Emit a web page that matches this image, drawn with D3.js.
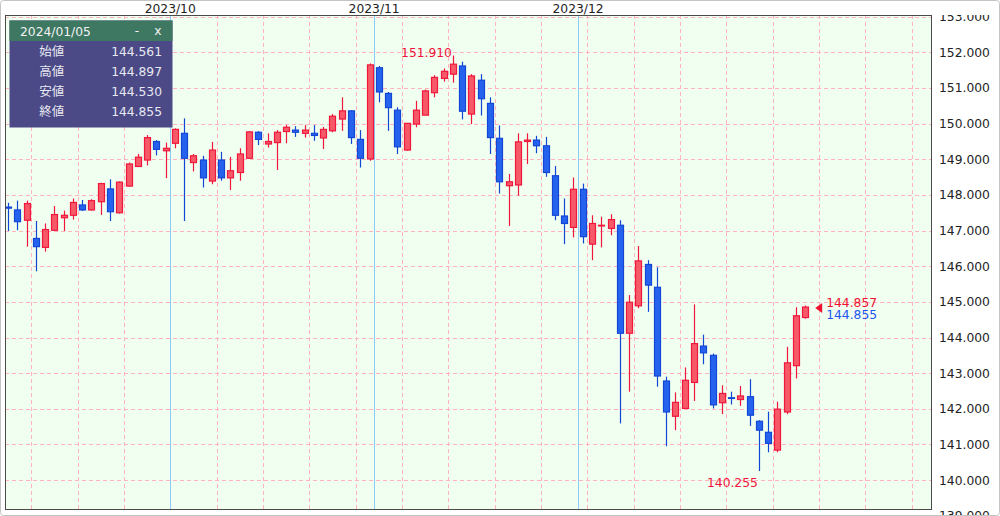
<!DOCTYPE html>
<html><head><meta charset="utf-8">
<script src="https://cdn.jsdelivr.net/npm/d3@7"></script>
<style>
html,body{margin:0;padding:0;background:#fff;}
svg{display:block;}
</style></head><body>
<svg id="c" width="1000" height="516"></svg>
<script>
// ---------------- data ----------------
const dates = [
 "2023/09/06","2023/09/07","2023/09/08","2023/09/11","2023/09/12","2023/09/13","2023/09/14","2023/09/15",
 "2023/09/18","2023/09/19","2023/09/20","2023/09/21","2023/09/22","2023/09/25","2023/09/26","2023/09/27",
 "2023/09/28","2023/09/29",
 "2023/10/02","2023/10/03","2023/10/04","2023/10/05","2023/10/06","2023/10/09","2023/10/10","2023/10/11",
 "2023/10/12","2023/10/13","2023/10/16","2023/10/17","2023/10/18","2023/10/19","2023/10/20","2023/10/23",
 "2023/10/24","2023/10/25","2023/10/26","2023/10/27","2023/10/30","2023/10/31",
 "2023/11/01","2023/11/02","2023/11/03","2023/11/06","2023/11/07","2023/11/08","2023/11/09","2023/11/10",
 "2023/11/13","2023/11/14","2023/11/15","2023/11/16","2023/11/17","2023/11/20","2023/11/21","2023/11/22",
 "2023/11/23","2023/11/24","2023/11/27","2023/11/28","2023/11/29","2023/11/30",
 "2023/12/01","2023/12/04","2023/12/05","2023/12/06","2023/12/07","2023/12/08","2023/12/11","2023/12/12",
 "2023/12/13","2023/12/14","2023/12/15","2023/12/18","2023/12/19","2023/12/20","2023/12/21","2023/12/22",
 "2023/12/25","2023/12/26","2023/12/27","2023/12/28","2023/12/29",
 "2024/01/02","2024/01/03","2024/01/04","2024/01/05"
];
const open = [
 147.66,147.58,147.29,146.78,146.53,147.01,147.36,147.43,147.72,147.58,147.81,148.17,147.50,148.25,148.80,148.98,149.50,149.24,
 149.45,149.73,148.91,148.98,148.39,148.98,148.48,148.63,149.03,149.76,149.43,149.47,149.78,149.82,149.73,149.73,149.60,149.80,150.13,150.36,149.56,149.01,
 151.57,150.85,150.38,149.26,149.99,150.24,150.87,151.27,151.39,151.62,150.27,151.22,150.57,149.59,148.26,148.28,149.50,149.54,149.38,148.54,147.41,147.09,
 148.16,146.62,147.13,147.06,147.15,144.12,144.89,146.05,145.41,142.78,141.79,142.01,142.74,143.76,143.50,142.17,142.31,142.26,142.34,141.65,141.34,
 140.84,141.91,143.21,144.561
];
const high = [
 147.78,147.84,147.84,147.27,147.20,147.69,147.56,147.90,147.86,147.88,148.34,148.44,148.38,148.91,149.15,149.68,149.54,149.47,
 149.87,150.15,149.15,149.10,149.49,149.21,149.07,149.31,149.79,149.79,149.73,149.82,149.96,149.93,149.96,149.96,149.91,150.27,150.74,150.38,149.82,151.69,
 151.62,150.89,150.46,150.02,150.64,150.96,151.36,151.55,151.91,151.74,151.39,151.39,150.74,149.95,148.59,149.73,149.73,149.66,149.63,148.81,147.90,148.49,
 148.32,147.43,147.39,147.46,147.29,145.19,146.57,146.17,145.97,142.90,142.46,143.16,144.93,144.08,143.55,142.66,142.48,142.64,142.83,141.68,141.92,
 142.20,143.74,144.85,144.897
];
const low = [
 146.99,147.01,146.55,145.86,146.41,146.99,146.99,147.31,147.55,147.56,147.44,147.27,147.48,148.23,148.79,148.83,149.11,148.47,
 149.31,147.27,148.66,148.21,148.30,148.40,148.14,148.40,149.01,149.40,149.33,148.70,149.45,149.63,149.61,149.52,149.29,149.76,149.80,149.43,148.77,148.96,
 150.60,149.80,149.15,149.24,149.90,150.24,150.74,151.18,151.15,150.12,149.99,150.23,149.15,148.04,147.13,147.98,148.87,149.17,148.51,147.29,146.62,146.81,
 146.64,146.17,146.53,146.87,141.59,142.48,144.82,144.72,142.62,140.95,141.40,142.01,142.22,143.25,142.01,141.85,142.12,142.08,141.52,140.255,140.78,
 140.78,141.85,142.85,144.530
];
const close = [
 147.63,147.25,147.76,146.55,147.03,147.45,147.43,147.79,147.58,147.84,148.32,147.53,148.36,148.87,149.06,149.61,149.28,149.31,
 149.84,149.03,149.10,148.48,149.26,148.48,148.68,149.15,149.77,149.56,149.50,149.76,149.90,149.76,149.82,149.67,149.84,150.21,150.36,149.61,149.03,151.65,
 150.89,150.45,149.35,150.01,150.38,150.92,151.30,151.47,151.67,150.35,151.34,150.70,149.61,148.37,148.37,149.49,149.54,149.38,148.63,147.43,147.20,148.16,
 146.83,147.20,147.15,147.31,144.12,144.99,146.15,145.47,142.92,141.91,142.18,142.80,143.83,143.57,142.11,142.43,142.29,142.36,141.82,141.40,141.03,
 141.99,143.29,144.61,144.855
];
const yTicks = [139,140,141,142,143,144,145,146,147,148,149,150,151,152,153];
const monthLabels = ["2023/10","2023/11","2023/12"];
const monthStarts = ["2023/10/02","2023/11/01","2023/12/01"];
const lastPrice = 144.857;
const tipFields = ["始値","高値","安値","終値"];

// ---------------- layout ----------------
const L = 5, R = 932, T = 15, B = 510;
const svg = d3.select("#c");
const n = dates.length;
const x = d3.scaleLinear().domain([0, n - 1]).range([8, 805.2]);
const y = d3.scaleLinear().domain([139.16, 153.05]).range([B, T]);
const fmt = d3.format(".3f");
const NUMF = "'DejaVu Sans', Verdana, sans-serif";
const JPF = "'Noto Sans CJK JP', sans-serif";

const defs = svg.append("defs");
defs.append("clipPath").attr("id", "plot").append("rect").attr("x", L).attr("y", T).attr("width", R - L).attr("height", B - T);
defs.append("clipPath").attr("id", "lab").append("rect").attr("x", R).attr("y", T).attr("width", 1000 - R).attr("height", 516 - T);

svg.append("rect").attr("width", 1000).attr("height", 516).attr("fill", "#fff");
svg.append("rect").attr("x", L).attr("y", T).attr("width", R - L).attr("height", B - T).attr("fill", "#f0fff0");

const plot = svg.append("g").attr("clip-path", "url(#plot)");

// horizontal grid
plot.append("g").selectAll("line").data(yTicks).join("line")
  .attr("x1", L).attr("x2", R)
  .attr("y1", d => Math.round(y(d)) + 0.5).attr("y2", d => Math.round(y(d)) + 0.5)
  .attr("stroke", "#ffb3bd").attr("stroke-dasharray", "4,3").attr("stroke-width", 1);

// weekly grid (boundary before first trading day of each week)
const parse = d3.timeParse("%Y/%m/%d");
const dd = dates.map(parse);
const weekStarts = [];
for (let i = 1; i < n; i++) {
  if (d3.timeMonday.floor(dd[i]).getTime() !== d3.timeMonday.floor(dd[i - 1]).getTime()) weekStarts.push(i);
}
let w = weekStarts[weekStarts.length - 1];
while (x(w + 5 - 0.5) < R) { w += 5; weekStarts.push(w); }
plot.append("g").selectAll("line").data(weekStarts).join("line")
  .attr("x1", d => Math.round(x(d - 0.5)) + 0.5).attr("x2", d => Math.round(x(d - 0.5)) + 0.5)
  .attr("y1", T).attr("y2", B)
  .attr("stroke", "#ffb3bd").attr("stroke-dasharray", "4,3").attr("stroke-width", 1);

// month lines
const monthIdx = monthStarts.map(s => dates.indexOf(s));
plot.append("g").selectAll("line").data(monthIdx).join("line")
  .attr("x1", d => Math.round(x(d - 0.5)) + 0.5).attr("x2", d => Math.round(x(d - 0.5)) + 0.5)
  .attr("y1", T).attr("y2", B)
  .attr("stroke", "#8ccbf5").attr("stroke-width", 1);

// candles
const UP_FILL = "#f65a69", UP_STROKE = "#f0163c";
const DN_FILL = "#2563ee", DN_STROKE = "#1446d6";
const idx = d3.range(n);
const cg = plot.append("g").selectAll("g").data(idx).join("g");
cg.append("line")
  .attr("x1", i => Math.round(x(i)) + 0.5).attr("x2", i => Math.round(x(i)) + 0.5)
  .attr("y1", i => y(high[i])).attr("y2", i => y(low[i]))
  .attr("stroke", i => close[i] >= open[i] ? UP_STROKE : DN_STROKE).attr("stroke-width", 1.2);
cg.append("rect")
  .attr("x", i => Math.round(x(i)) - 2.5)
  .attr("width", 6)
  .attr("y", i => y(Math.max(open[i], close[i])))
  .attr("height", i => Math.max(0.6, Math.abs(y(open[i]) - y(close[i]))))
  .attr("fill", i => close[i] >= open[i] ? UP_FILL : DN_FILL)
  .attr("stroke", i => close[i] >= open[i] ? UP_STROKE : DN_STROKE)
  .attr("stroke-width", 1.2);

// high / low labels
const hiI = d3.maxIndex(high), loI = d3.minIndex(low);
svg.append("text").attr("x", x(hiI) - 1).attr("y", y(high[hiI]) + 1)
  .attr("text-anchor", "end").attr("font-family", NUMF).attr("font-size", 12.3)
  .attr("fill", "#f0143c").text(fmt(high[hiI]));
svg.append("text").attr("x", x(loI) - 1).attr("y", y(low[loI]) + 16)
  .attr("text-anchor", "end").attr("font-family", NUMF).attr("font-size", 12.3)
  .attr("fill", "#f0143c").text(fmt(low[loI]));

// last price marker
const lx = x(n - 1) + 10, ly = y(lastPrice);
svg.append("path").attr("d", `M${lx},${ly + 1} L${lx + 7},${ly - 4} L${lx + 7},${ly + 6} Z`).attr("fill", "#f01030");
svg.append("text").attr("x", lx + 11).attr("y", ly).attr("font-family", NUMF).attr("font-size", 12.3)
  .attr("fill", "#f01030").text(fmt(lastPrice));
svg.append("text").attr("x", lx + 11).attr("y", ly + 12).attr("font-family", NUMF).attr("font-size", 12.3)
  .attr("fill", "#2255ee").text(fmt(close[n - 1]));

// plot border
svg.append("rect").attr("x", L + 0.5).attr("y", T + 0.5).attr("width", R - L - 1).attr("height", B - T - 1)
  .attr("fill", "none").attr("stroke", "#4a4a4a").attr("stroke-width", 1);

// y axis (clip group in page coordinates, axis group translated inside it)
const axis = d3.axisRight(y).tickValues(yTicks).tickFormat(fmt).tickSize(0).tickPadding(7);
const clipG = svg.append("g").attr("clip-path", "url(#lab)");
const ag = clipG.append("g").attr("transform", `translate(${R},0)`).call(axis);
ag.select(".domain").remove();
ag.selectAll("text").attr("font-family", NUMF).attr("font-size", 12.3).attr("fill", "#222");

// month labels
svg.append("g").selectAll("text").data(monthIdx).join("text")
  .attr("x", d => x(d - 0.5)).attr("y", 13).attr("text-anchor", "middle")
  .attr("font-family", NUMF).attr("font-size", 12.3).attr("fill", "#222")
  .text((d, k) => monthLabels[k]);

// tooltip box
const tip = svg.append("g");
tip.append("rect").attr("x", 9.5).attr("y", 20.5).attr("width", 163).attr("height", 107).attr("fill", "#4b4a86");
tip.append("rect").attr("x", 9.5).attr("y", 20.5).attr("width", 163).attr("height", 20.5).attr("fill", "#3e7862");
tip.append("text").attr("x", 20).attr("y", 35.5).attr("font-family", NUMF).attr("font-size", 12.3)
  .attr("fill", "#f2f2f2").text(dates[n - 1]);
tip.append("text").attr("x", 137).attr("y", 35).attr("text-anchor", "middle").attr("font-family", NUMF).attr("font-size", 12.3)
  .attr("fill", "#f2f2f2").text("-");
tip.append("text").attr("x", 158).attr("y", 35).attr("text-anchor", "middle").attr("font-family", NUMF).attr("font-size", 12.3)
  .attr("fill", "#f2f2f2").text("x");
const tipVals = [open[n - 1], high[n - 1], low[n - 1], close[n - 1]];
tipFields.forEach((f, k) => {
  const ty = 56 + k * 20;
  tip.append("text").attr("x", 51.7).attr("y", ty).attr("text-anchor", "middle").attr("font-family", JPF)
    .attr("font-size", 12.5).attr("fill", "#e8e8f2").text(f);
  tip.append("text").attr("x", 162).attr("y", ty).attr("text-anchor", "end").attr("font-family", NUMF)
    .attr("font-size", 12.3).attr("fill", "#e8e8f2").text(fmt(tipVals[k]));
});

// outer frame
svg.append("rect").attr("x", 0.5).attr("y", 0.5).attr("width", 999).attr("height", 515).attr("rx", 3)
  .attr("fill", "none").attr("stroke", "#c4c4c4");
</script>
</body></html>
